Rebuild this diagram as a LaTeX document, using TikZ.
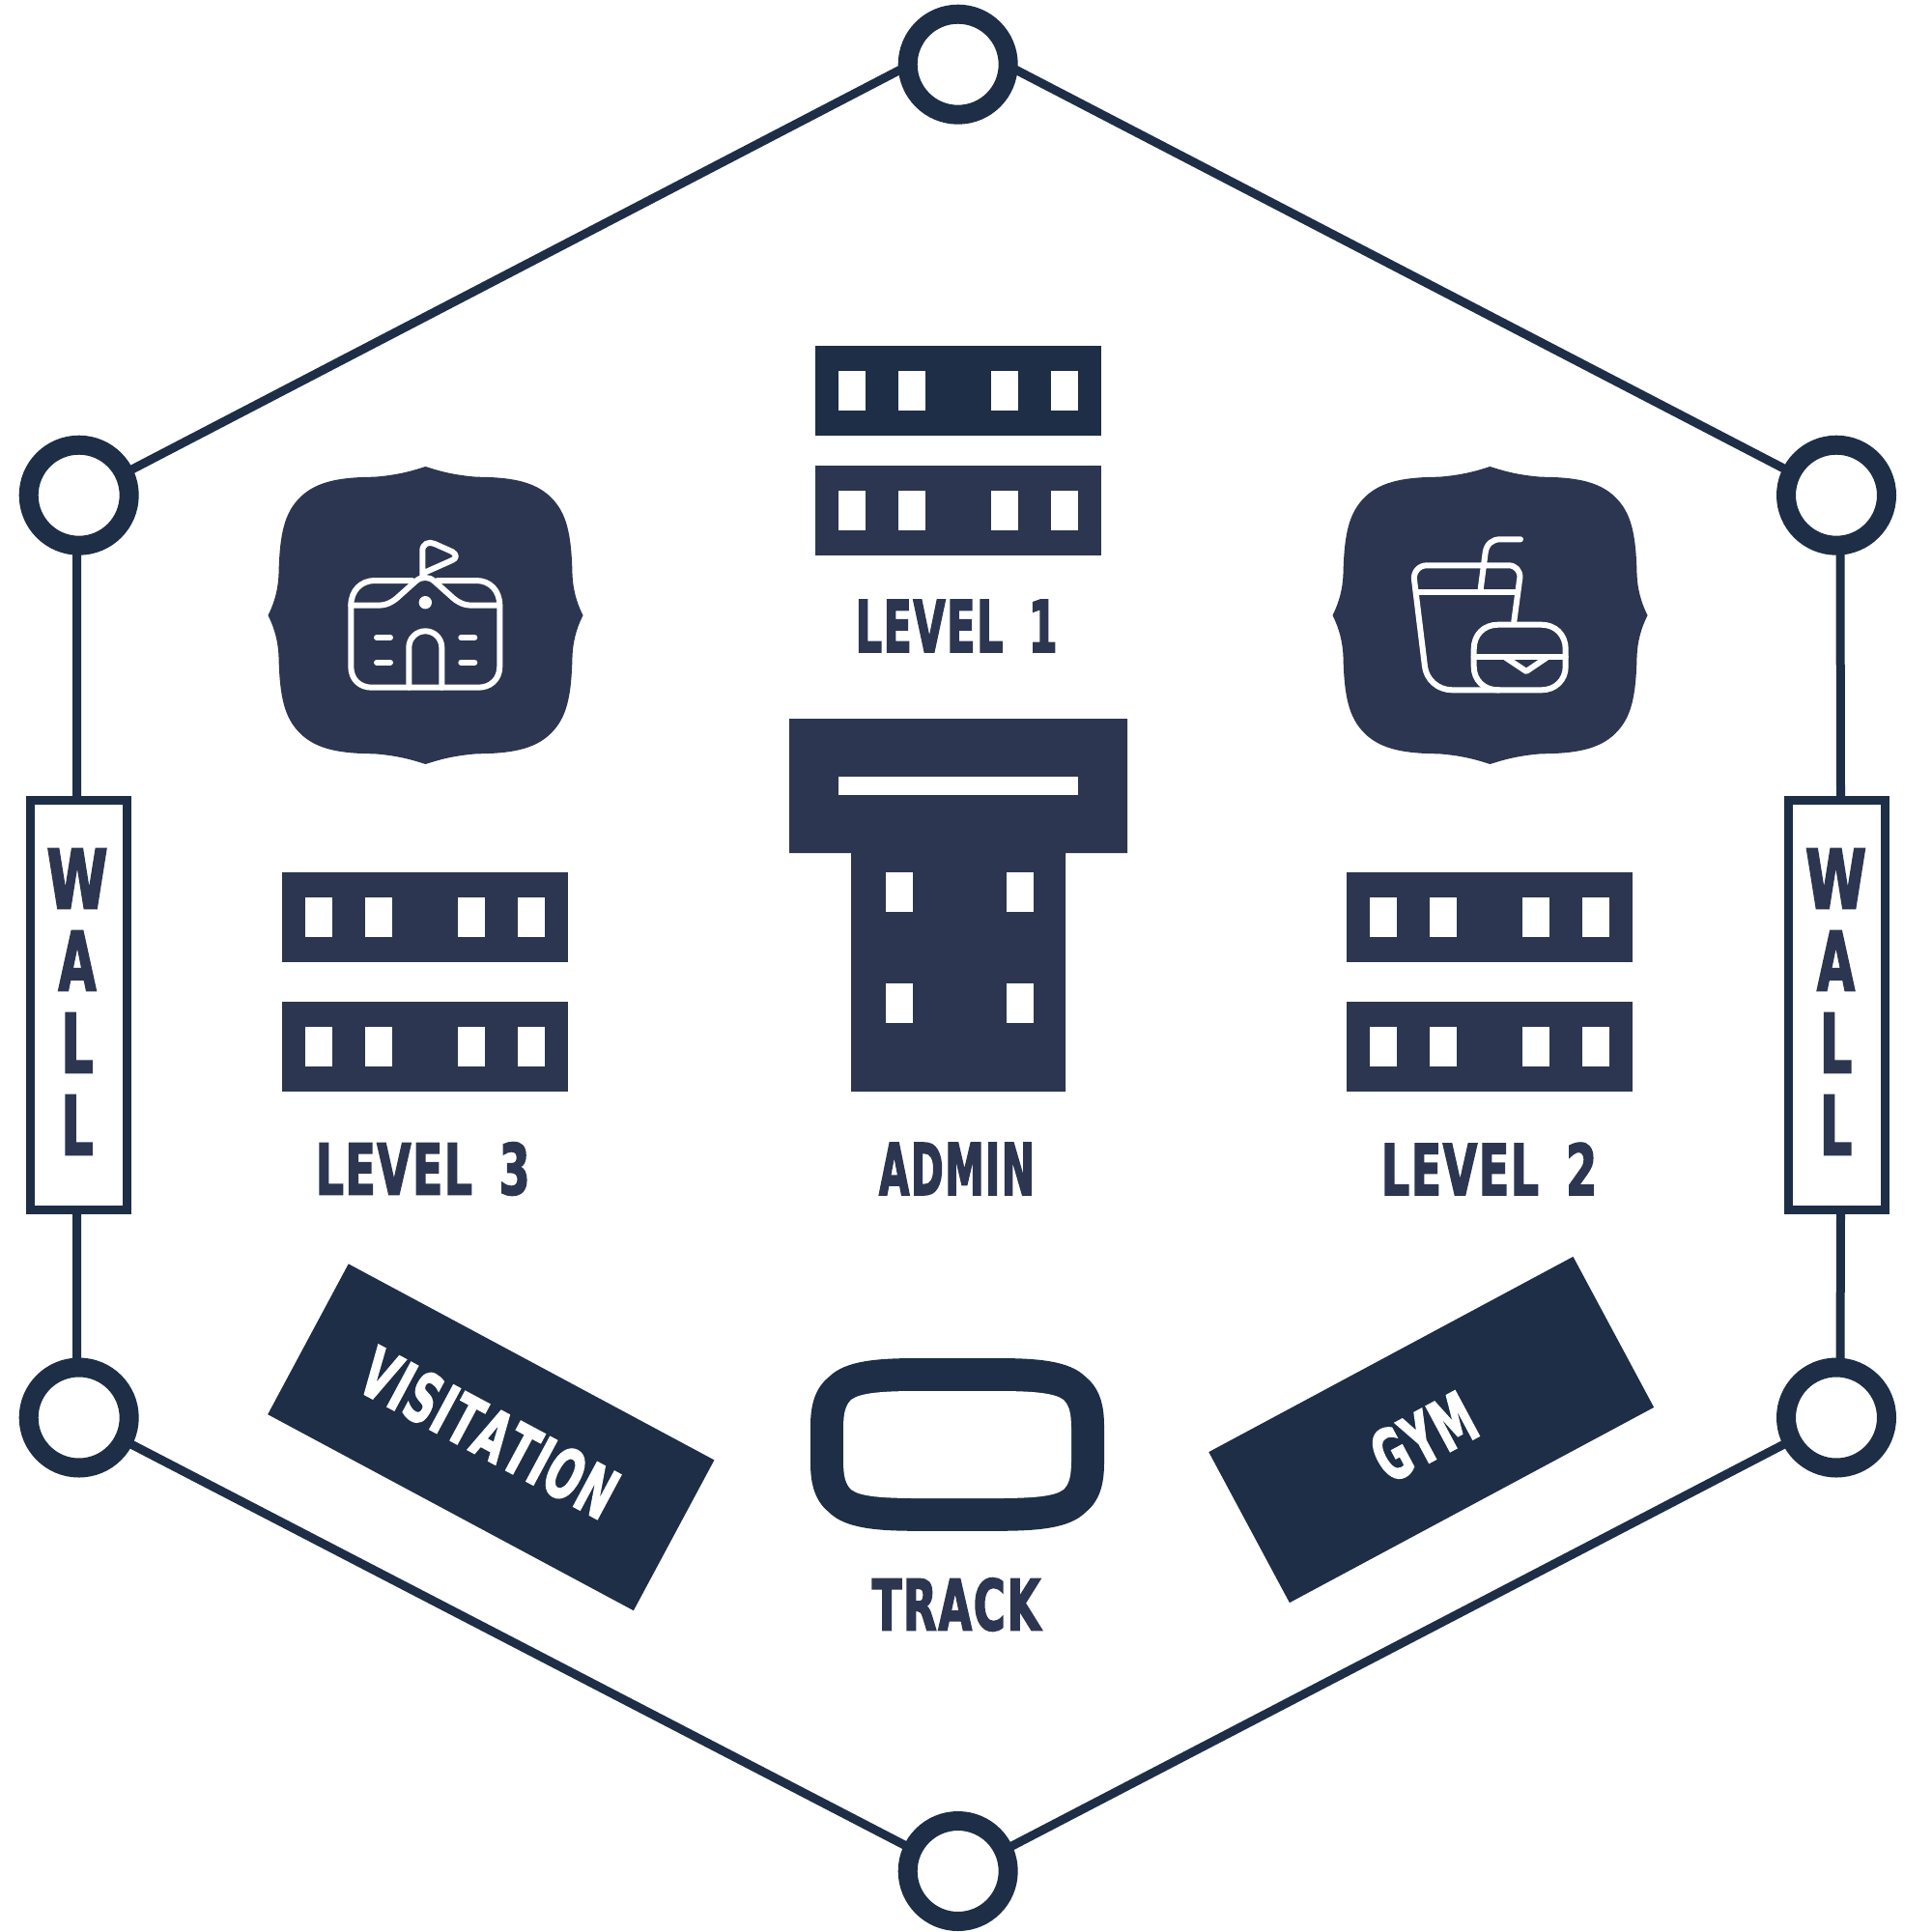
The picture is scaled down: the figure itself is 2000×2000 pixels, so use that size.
\documentclass[tikz,border=0pt]{standalone}
\usepackage{graphicx}
\usepackage{fontspec}
\newfontfamily\blk[FakeBold=2.2,FakeStretch=0.64,WordSpace=1.6,Kerning=Off,LetterSpace=2.5]{DejaVu Sans}
\definecolor{navyA}{HTML}{1D2E46}
\definecolor{navyB}{HTML}{2C3651}
\newcommand\fitt[3]{\resizebox{#1pt}{#2pt}{\blk\bfseries #3}}
\newcommand\wallskip{\setlength{\baselineskip}{85pt}}
\newcommand\floorbar[3]{\begin{scope}[shift={(#1,#2)}]
  \fill[#3] (0,0) rectangle (296,93);
  \foreach \wx in {24,86,182,244}{\fill[white] (\wx,26) rectangle ++(28,41);}
\end{scope}}
\newcommand\badgeshape{(0,-154) .. controls (10,-151) and (25,-145.5) .. (53,-143.3)
  .. controls (85,-143) and (112,-140) .. (130,-122)
  .. controls (146,-106) and (151,-85) .. (152,-43)
  .. controls (152.5,-28) and (156,-14) .. (163,0)
  .. controls (156,14) and (152.5,28) .. (152,43)
  .. controls (151,85) and (146,106) .. (130,122)
  .. controls (112,140) and (85,143) .. (53,143.3)
  .. controls (25,145.5) and (10,151) .. (0,154)
  .. controls (-10,151) and (-25,145.5) .. (-53,143.3)
  .. controls (-85,143) and (-112,140) .. (-130,122)
  .. controls (-146,106) and (-151,85) .. (-152,43)
  .. controls (-152.5,28) and (-156,14) .. (-163,0)
  .. controls (-156,-14) and (-152.5,-28) .. (-152,-43)
  .. controls (-151,-85) and (-146,-106) .. (-130,-122)
  .. controls (-112,-140) and (-85,-143) .. (-53,-143.3)
  .. controls (-25,-145.5) and (-10,-151) .. (0,-154) -- cycle}
\newcommand\squircle[9]{(-#1,1) -- (#1,1)
  .. controls (#2,1) and (#3,#4) .. (#5,#6)
  .. controls (#7,#8) and (1,{#9+0.3}) .. (1,#9) -- (1,-#9)
  .. controls (1,{-#9-0.3}) and (#7,-#8) .. (#5,-#6)
  .. controls (#3,-#4) and (#2,-1) .. (#1,-1) -- (-#1,-1)
  .. controls (-#2,-1) and (-#3,-#4) .. (-#5,-#6)
  .. controls (-#7,-#8) and (-1,{-#9-0.3}) .. (-1,-#9) -- (-1,#9)
  .. controls (-1,{#9+0.3}) and (-#7,#8) .. (-#5,#6)
  .. controls (-#3,#4) and (-#2,1) .. (-#1,1) -- cycle}
\tikzset{
  hub/.style={circle,draw=navyA,fill=white,line width=20pt,minimum size=104pt,inner sep=0pt},
  wallbox/.style={rectangle,draw=navyA,fill=white,line width=9pt,minimum width=100pt,minimum height=423.5pt,inner sep=0pt},
  wire/.style={draw=navyA,line width=9pt,shorten >=-3pt,shorten <=-3pt},
  plate/.style={rectangle,fill=navyA,inner sep=0pt},
  lbl/.style={text=navyB,inner sep=0pt,outer sep=0pt,anchor=center},
  lblw/.style={text=white,inner sep=0pt,outer sep=0pt,anchor=center},
  glyph/.style={draw=white,line width=6pt,line cap=round,line join=round}
}
\begin{document}
\begin{tikzpicture}[x=1pt,y=-1pt]
\useasboundingbox (0,0) rectangle (2000,2000);
% hexagon
\node[hub] (top) at (991.7,66.7) {};
\node[hub] (lu) at (81.7,512.7) {};
\node[hub] (ru) at (1901,512.7) {};
\node[hub] (ll) at (81.7,1467.5) {};
\node[hub] (lr) at (1901,1467.5) {};
\node[hub] (bot) at (991.7,1937) {};
\node[wallbox] (wl) at (81.5,1040.3) {};
\node[wallbox] (wr) at (1901.5,1040.3) {};
\draw[wire] (lu.26.7) -- (top.186.8);
\draw[wire] (top.-6.8) -- (ru.153.3);
\draw[wire] (ll.-27.5) -- (bot.154.2);
\draw[wire] (lr.207.5) -- (bot.25.8);
\draw[wire] ([xshift=-2pt]lu.south) -- ([xshift=-2pt]wl.north);
\draw[wire] ([xshift=-2pt]wl.south) -- ([xshift=-2pt]ll.north);
\draw[wire] ([xshift=4pt]ru.south) -- ([xshift=4pt]wr.north);
\draw[wire] ([xshift=4pt]wr.south) -- ([xshift=4pt]lr.north);
\node[lbl,align=center,font=\wallskip] (wallL) at (80,1037) {\fitt{63}{62}{W}\\\fitt{39}{62}{A}\\\fitt{33}{62}{L}\\\fitt{33}{62}{L}};
\node[lbl,align=center,font=\wallskip] (wallR) at (1900.5,1037) {\fitt{63}{62}{W}\\\fitt{39}{62}{A}\\\fitt{33}{62}{L}\\\fitt{33}{62}{L}};
% floors
\floorbar{844}{358}{navyA}
\floorbar{844}{482}{navyB}
\floorbar{292}{903}{navyB}
\floorbar{292}{1037}{navyB}
\floorbar{1394}{903}{navyB}
\floorbar{1394}{1037}{navyB}
\node[lbl] (l1) at (990.2,648) {\fitt{209}{54}{LEVEL 1}};
\node[lbl] (l3) at (437.7,1210) {\fitt{221.5}{54}{LEVEL 3}};
\node[lbl] (l2) at (1541.5,1210) {\fitt{223}{54}{LEVEL 2}};
% admin
\fill[navyB] (817,744) -- (1167,744) -- (1167,883) -- (1103,883) -- (1103,1130) -- (881,1130) -- (881,883) -- (817,883) -- cycle;
\fill[white] (868,804) rectangle (1116,823);
\foreach \wx in {917,1042}{\foreach \wy in {903,1018}{\fill[white] (\wx,\wy) rectangle ++(28,41);}}
\node[lbl] (adm) at (990.4,1210) {\fitt{160.7}{54}{ADMIN}};
% badges
\begin{scope}[shift={(440.5,637)}]\fill[navyB] \badgeshape;\end{scope}
\begin{scope}[shift={(1542.5,637)}]\fill[navyB] \badgeshape;\end{scope}
% school icon
\draw[glyph] (426.7,601) -- (388,601) .. controls (374,601) and (363.3,611) .. (363.3,627) -- (363.3,690) .. controls (363.3,703) and (372,711.7) .. (385,711.7) -- (495,711.7) .. controls (508,711.7) and (517.3,703) .. (517.3,690) -- (517.3,627) .. controls (517.3,611) and (507,601) .. (493,601) -- (453,601);
\draw[glyph] (363.3,626.7) -- (390,626.7) .. controls (400,626.7) and (405,624) .. (411,619) -- (430,602) .. controls (436,596.5) and (444,596.5) .. (450,602) -- (469,619) .. controls (475,624) and (480,626.7) .. (490,626.7) -- (517.3,626.7);
\draw[glyph] (437.3,596) -- (437.3,570) .. controls (437.3,563) and (444,560) .. (450,563) -- (468,571) .. controls (473,574) and (473,578) .. (468,580) -- (441,592);
\fill[white] (440.3,623.7) circle[radius=6.7];
\draw[glyph] (390,660) -- (404,660) (390,685.7) -- (404,685.7) (477.3,660) -- (491.3,660) (477.3,685.7) -- (491.3,685.7);
\draw[glyph] (423.3,711.7) -- (423.3,670.3) .. controls (423.3,660.9) and (430.9,653.3) .. (440.3,653.3) .. controls (449.7,653.3) and (457.3,660.9) .. (457.3,670.3) -- (457.3,711.7);
% food icon
\draw[glyph] (1552,714.3) -- (1503.3,714.3) .. controls (1488,714.3) and (1476.5,703) .. (1475,690) -- (1464,600) .. controls (1463,592) and (1469,585.3) .. (1477,585.3) -- (1561.7,585.3) .. controls (1569,585.3) and (1574,591) .. (1573.3,598.3) -- (1567.3,643.3);
\draw[glyph] (1468,612.7) -- (1569.3,612.7);
\draw[glyph] (1532.7,610) -- (1537.7,571.7) .. controls (1539,563) and (1545,558.3) .. (1553,558.3) -- (1574,558.3);
\draw[glyph] (1550.7,646.7) -- (1595.7,646.7) .. controls (1610,646.7) and (1620.7,657) .. (1620.7,672) -- (1620.7,690) .. controls (1620.7,704) and (1610,714.3) .. (1595.7,714.3) -- (1550.7,714.3) .. controls (1536,714.3) and (1525.7,704) .. (1525.7,690) -- (1525.7,672) .. controls (1525.7,657) and (1536,646.7) .. (1550.7,646.7) -- cycle;
\draw[glyph] (1525.7,680) -- (1620.7,680);
\draw[glyph] (1559,681) -- (1580,695) -- (1600.7,681);
% plates
\node[plate,rotate=-28.2,minimum width=429.7pt,minimum height=176.8pt] (vis) at (508.3,1487.8) {};
\node[lblw,rotate=-28.2] (vist) at (506.7,1483.3) {\fitt{289}{53}{VISITATION}};
\node[plate,rotate=28.2,minimum width=428pt,minimum height=177pt] (gym) at (1481.7,1480) {};
\node[lblw,rotate=28.2] (gymt) at (1473.7,1487.3) {\fitt{110}{54}{GYM}};
% track
\begin{scope}[shift={(991,1495.4)},xscale=152,yscale=89.4]
\fill[navyA] \squircle{0.27}{0.55}{0.76}{0.97}{0.87}{0.79}{0.95}{0.68}{0.22};
\end{scope}
\begin{scope}[shift={(991,1495.5)},xscale=118,yscale=55.5]
\fill[white] \squircle{0.35}{0.65}{0.85}{0.97}{0.93}{0.84}{0.98}{0.74}{0.3};
\end{scope}
\node[lbl] (trk) at (990,1661) {\fitt{174.3}{54}{TRACK}};
\end{tikzpicture}
\end{document}
